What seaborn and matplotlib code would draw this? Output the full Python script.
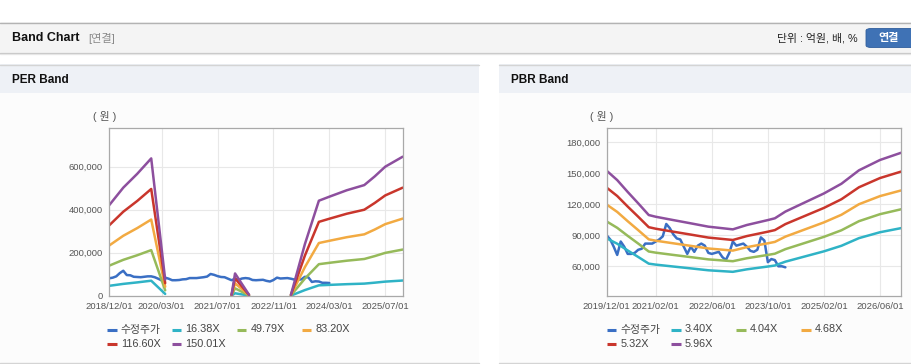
import numpy as np
import pandas as pd
import matplotlib
matplotlib.use("Agg")
import matplotlib.pyplot as plt
import seaborn as sns
from matplotlib.patches import Rectangle, FancyBboxPatch
from matplotlib.lines import Line2D

# ---------------- data ----------------
price_start = "2018-12"
price = [81000, 84000, 90000, 105000, 116000, 96000, 95000, 88000, 87000, 86000, 88000, 90000,
         90000, 86000, 79000, 71000, 84000, 79000, 72000, 72000, 73000, 76000, 77000, 82000,
         82000, 82000, 84000, 86000, 89000, 101000, 97000, 91000, 87000, 86000, 79000, 72000,
         79000, 74000, 80000, 82000, 80000, 73000, 72000, 73000, 74000, 69000, 66000, 73000,
         84000, 80000, 81000, 82000, 79000, 75000, 74000, 76000, 88000, 85000, 64000, 67000,
         66000, 60000, 60000, 59000]

# PER band (vertices, segments separated)
per_labels = ["16.38X", "49.79X", "83.20X", "116.60X", "150.01X"]
per_seg_months = [
    ["2018-12", "2019-04", "2019-08", "2019-12", "2020-04"],
    ["2021-11", "2021-12", "2022-04"],
    ["2023-04", "2023-08", "2023-12", "2024-03", "2024-08", "2025-01", "2025-04", "2025-07", "2025-12"],
]
per_16 = [[46000, 54900, 61900, 69700, 8200], [500, 11300, 500],
          [500, 26200, 48200, 50300, 53600, 56200, 60600, 65500, 70600]]
per_49 = [[139900, 166800, 188200, 212000, 24900], [1500, 34400, 1500],
          [1500, 79700, 146600, 152900, 162800, 170800, 184200, 199200, 214600]]
per_83 = [[233800, 278700, 314500, 354200, 41600], [2500, 57400, 2500],
          [2500, 133100, 245000, 255400, 272100, 285400, 307800, 332800, 358600]]
per_116 = [[327600, 390600, 440700, 496400, 58300], [3500, 80500, 3500],
           [3500, 186600, 343400, 358000, 381300, 399900, 431400, 466400, 502500]]
per_150 = [[421500, 502500, 567000, 638600, 75000], [4500, 103500, 4500],
           [4500, 240000, 441800, 460500, 490500, 514500, 555000, 600000, 646500]]

per_xticks = ["2018/12/01", "2020/03/01", "2021/07/01", "2022/11/01", "2024/03/01", "2025/07/01"]
per_yticks = [0, 200000, 400000, 600000]

# PBR band
pbr_labels = ["3.40X", "4.04X", "4.68X", "5.32X", "5.96X"]
pbr_months = ["2019-12", "2020-03", "2020-06", "2020-09", "2020-12", "2021-02", "2021-07", "2021-12",
              "2022-05", "2022-12", "2023-04", "2023-10", "2023-12", "2024-03", "2024-09", "2025-02",
              "2025-07", "2025-12", "2026-06", "2026-12"]
pbr_340 = [87040, 81870, 75310, 69020, 62560, 61610, 59770, 57970, 56130, 54640, 57050, 59770,
           60760, 64460, 69940, 74490, 79870, 87280, 92990, 96970]
pbr_404 = [103420, 97280, 89490, 82010, 74340, 73200, 71020, 68880, 66700, 64920, 67790, 71020,
           72190, 76600, 83100, 88520, 94900, 103710, 110490, 115220]
pbr_468 = [119810, 112690, 103660, 95000, 86110, 84800, 82270, 79790, 77270, 75210, 78530, 82270,
           83630, 88730, 96270, 102540, 109930, 120140, 128000, 133470]
pbr_532 = [136190, 128110, 117840, 108000, 97890, 96400, 93530, 90710, 87830, 85490, 89270, 93530,
           95070, 100870, 109430, 116560, 124970, 136560, 145500, 151730]
pbr_596 = [152580, 143520, 132010, 120990, 109660, 108000, 104780, 101620, 98400, 95780, 100010, 104780,
           106510, 113000, 122600, 130580, 140000, 153000, 163010, 169980]

pbr_xticks = ["2019/12/01", "2021/02/01", "2022/06/01", "2023/10/01", "2025/02/01", "2026/06/01"]
pbr_yticks = [60000, 90000, 120000, 150000, 180000]

price_label = "수정주가"
colors = ["#3a6fc4", "#2fb3c6", "#96ba5a", "#f2aa42", "#c9362c", "#8d4f9e"]


def midx(s, start):
    y, m = int(s[:4]), int(s[5:7])
    y0, m0 = int(start[:4]), int(start[5:7])
    return (y - y0) * 12 + (m - m0)


# ---------------- figure ----------------
sns.set_theme(style="white")
plt.rcParams["font.family"] = ["Liberation Sans", "Noto Sans CJK KR", "DejaVu Sans"]

W, H = 912, 364
fig = plt.figure(figsize=(W / 100, H / 100), dpi=100)
fig.patch.set_facecolor("white")


def fx(x):
    return x / W


def fy(y):
    return 1 - y / H


def rect(x0, y0, x1, y1, color, z=-10):
    fig.patches.append(Rectangle((fx(x0), fy(y1)), (x1 - x0) / W, (y1 - y0) / H,
                                 transform=fig.transFigure, facecolor=color, lw=0, zorder=z))


def hline(x0, x1, y, color, lw=0.72):
    fig.add_artist(Line2D([fx(x0), fx(x1)], [fy(y), fy(y)], transform=fig.transFigure,
                          color=color, lw=lw, zorder=-5))


# header bar
rect(0, 22, 912, 53, "#f4f4f4")
hline(0, 912, 22.5, "#b3b3b3", 1.0)
hline(0, 912, 53.2, "#c6c6c6", 0.9)
hline(0, 912, 54.4, "#e6e6e6", 0.9)
fig.text(fx(12), fy(38), "Band Chart", fontsize=9, fontweight="bold", color="#111", va="center")
fig.text(fx(88), fy(38), "[연결]", fontsize=8, color="#8a8a8a", va="center")
fig.text(fx(858), fy(38), "단위 : 억원, 배, %", fontsize=7.8, color="#222", va="center", ha="right")
btn = FancyBboxPatch((fx(866), fy(47.5)), 60 / W, 19 / H, boxstyle="round,pad=0,rounding_size=0.006",
                     transform=fig.transFigure, facecolor="#3f72b5", edgecolor="#2f5e9c", lw=0.6, zorder=-4)
fig.patches.append(btn)
fig.text(fx(889), fy(38), "연결", fontsize=8, fontweight="bold", color="white", va="center", ha="center")

# panels
for (x0, x1, title) in [(0, 479, "PER Band"), (499, 912, "PBR Band")]:
    rect(x0, 64, x1, 363, "#fcfcfc")
    rect(x0, 64, x1, 92.5, "#eef1f6")
    hline(x0, x1, 64.5, "#d4d4d4", 1.0)
    hline(x0, x1, 362.6, "#d4d4d4", 1.0)
    fig.text(fx(x0 + 12), fy(80), title, fontsize=8.5, fontweight="bold", color="#111", va="center")


def style_axes(ax, xtick_pos, xtick_labels, yticks, ylim):
    ax.set_zorder(5)
    ax.set_facecolor("white")
    ax.set_xlim(0, 84)
    ax.set_ylim(*ylim)
    ax.set_xticks(xtick_pos)
    ax.set_xticklabels(xtick_labels)
    ax.set_yticks(yticks)
    ax.set_yticklabels([f"{v:,}" for v in yticks])
    ax.grid(True, color="#e8e8e8", lw=0.8)
    ax.set_axisbelow(True)
    ax.tick_params(length=0, labelsize=6.8, colors="#555555", pad=4.5)
    for sp in ax.spines.values():
        sp.set_color("#a9a9a9")
        sp.set_linewidth(0.9)
    ax.set_xlabel("")
    ax.set_ylabel("")


# ---- PER chart ----
ax1 = fig.add_axes([fx(109.3), fy(295.7), 293.4 / W, 167.7 / H])
price_df = pd.DataFrame({"m": list(range(len(price))), "v": price})
sns.lineplot(data=price_df, x="m", y="v", color=colors[0], lw=1.8, ax=ax1, legend=False)

rows = []
for lab, series in zip(per_labels, [per_16, per_49, per_83, per_116, per_150]):
    for si, (months, vals) in enumerate(zip(per_seg_months, series)):
        for mo, v in zip(months, vals):
            rows.append({"m": midx(mo, price_start), "v": v, "s": lab, "seg": si})
per_df = pd.DataFrame(rows)
sns.lineplot(data=per_df, x="m", y="v", hue="s", units="seg", estimator=None, sort=False,
             palette=dict(zip(per_labels, colors[1:])), lw=1.8, ax=ax1, legend=False)
per_tick_pos = [midx(t.replace("/", "-")[:7], price_start) for t in per_xticks]
style_axes(ax1, per_tick_pos, per_xticks, per_yticks, (0, 780000))

# ---- PBR chart ----
pbr_start = pbr_months[0]
ax2 = fig.add_axes([fx(606.7), fy(295.7), 294.3 / W, 167.7 / H])
off = midx(pbr_start, price_start)
pp = pd.DataFrame({"m": [i - off for i in range(off, len(price))], "v": price[off:]})
sns.lineplot(data=pp, x="m", y="v", color=colors[0], lw=1.8, ax=ax2, legend=False)
rows = []
for lab, vals in zip(pbr_labels, [pbr_340, pbr_404, pbr_468, pbr_532, pbr_596]):
    for mo, v in zip(pbr_months, vals):
        rows.append({"m": midx(mo, pbr_start), "v": v, "s": lab})
pbr_df = pd.DataFrame(rows)
sns.lineplot(data=pbr_df, x="m", y="v", hue="s", estimator=None, sort=False,
             palette=dict(zip(pbr_labels, colors[1:])), lw=1.8, ax=ax2, legend=False)
pbr_tick_pos = [midx(t.replace("/", "-")[:7], pbr_start) for t in pbr_xticks]
style_axes(ax2, pbr_tick_pos, pbr_xticks, pbr_yticks, (31500, 194000))

# unit labels
fig.text(fx(93), fy(117), "( 원 )", fontsize=7.8, color="#555", va="center")
fig.text(fx(590), fy(117), "( 원 )", fontsize=7.8, color="#555", va="center")


# legends (manual, fixed columns)
def legend(x0, labels, cols):
    colx = [0, 64.5, 129.5, 194.5]
    for i, (lab, c) in enumerate(zip(labels, cols)):
        r, k = divmod(i, 4)
        x = x0 + colx[k]
        y = 329.5 + r * 14.5
        fig.add_artist(Line2D([fx(x), fx(x + 9.5)], [fy(y), fy(y)], transform=fig.transFigure,
                              color=c, lw=2.2, solid_capstyle="butt"))
        fig.text(fx(x + 13.5), fy(y), lab, fontsize=7.8, color="#444", va="center")


legend(107.3, [price_label] + per_labels, colors)
legend(606.7, [price_label] + pbr_labels, colors)

fig.savefig("out.png", dpi=100, facecolor="white")
